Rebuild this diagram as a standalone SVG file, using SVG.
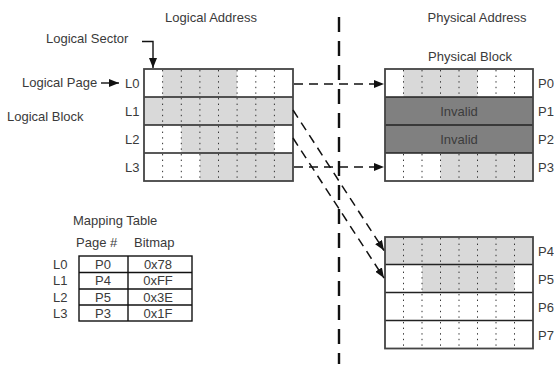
<svg xmlns="http://www.w3.org/2000/svg" width="554" height="372" viewBox="0 0 554 372">
  <style>
    text { font-family: "Liberation Sans", Arial, sans-serif; font-size: 13px; fill: #3a3a3a; }
    .mid { text-anchor: middle; }
    .lite { fill: #d9d9d9; }
    .dark { fill: #808080; }
    .col { stroke: #333; stroke-width: 1; stroke-dasharray: 1.4 4.2; }
    .sep { stroke: #222; stroke-width: 1.6; }
    .frame { fill: none; stroke: #444; stroke-width: 1.8; }
    .link { fill: none; stroke: #111; stroke-width: 1.5; stroke-dasharray: 9 6; }
    .divider { fill: none; stroke: #111; stroke-width: 2.4; stroke-dasharray: 15 9; }
    .solid { fill: none; stroke: #111; stroke-width: 1.4; }
    .inv { fill: #3c3c3c; }
  </style>
  <defs>
    <marker id="arrow" viewBox="0 0 10 8" refX="10" refY="4" markerWidth="10" markerHeight="8" markerUnits="userSpaceOnUse" orient="auto">
      <path d="M0,0 L10,4 L0,8 Z" fill="#111"/>
    </marker>
    <!-- dotted sector boundaries, 8 sectors per page -->
    <g id="cols-l" class="col">
      <line x1="162.6" y1="70" x2="162.6" y2="180"/>
      <line x1="181.3" y1="70" x2="181.3" y2="180"/>
      <line x1="199.9" y1="70" x2="199.9" y2="180"/>
      <line x1="218.5" y1="70" x2="218.5" y2="180"/>
      <line x1="237.1" y1="70" x2="237.1" y2="180"/>
      <line x1="255.8" y1="70" x2="255.8" y2="180"/>
      <line x1="274.4" y1="70" x2="274.4" y2="180"/>
    </g>
    <g id="cols-p" class="col">
      <line x1="403.5" y1="0" x2="403.5" y2="110"/>
      <line x1="422" y1="0" x2="422" y2="110"/>
      <line x1="440.5" y1="0" x2="440.5" y2="110"/>
      <line x1="459" y1="0" x2="459" y2="110"/>
      <line x1="477.5" y1="0" x2="477.5" y2="110"/>
      <line x1="496" y1="0" x2="496" y2="110"/>
      <line x1="514.5" y1="0" x2="514.5" y2="110"/>
    </g>
  </defs>

  <rect width="554" height="372" fill="#fff"/>

  <!-- headings -->
  <g id="headings">
    <text x="211" y="22" class="mid">Logical Address</text>
    <text x="477" y="22" class="mid">Physical Address</text>
    <text x="470" y="61" class="mid">Physical Block</text>
    <text x="46" y="43">Logical Sector</text>
    <text x="22" y="87">Logical Page</text>
    <text x="7" y="121">Logical Block</text>
  </g>

  <!-- logical block L0..L3 -->
  <g id="logical-block">
    <rect x="162.6" y="69" width="74.5" height="28" class="lite"/>
    <rect x="144" y="97" width="149" height="28" class="lite"/>
    <rect x="181.3" y="125" width="93.1" height="28" class="lite"/>
    <rect x="199.9" y="153" width="93.1" height="28" class="lite"/>
    <use href="#cols-l"/>
    <line x1="144" y1="97" x2="293" y2="97" class="sep"/>
    <line x1="144" y1="125" x2="293" y2="125" class="sep"/>
    <line x1="144" y1="153" x2="293" y2="153" class="sep"/>
    <rect x="144" y="69" width="149" height="112" class="frame"/>
    <text x="125" y="88">L0</text>
    <text x="125" y="116">L1</text>
    <text x="125" y="144">L2</text>
    <text x="125" y="172">L3</text>
  </g>

  <!-- physical block P0..P3 -->
  <g id="physical-block-a">
    <rect x="403.5" y="69" width="74" height="28" class="lite"/>
    <rect x="440.5" y="153" width="92.5" height="28" class="lite"/>
    <use href="#cols-p" y="70"/>
    <rect x="385" y="97" width="148" height="56" class="dark"/>
    <text x="459" y="116" class="mid inv">Invalid</text>
    <text x="459" y="144" class="mid inv">Invalid</text>
    <line x1="385" y1="97" x2="533" y2="97" class="sep"/>
    <line x1="385" y1="125" x2="533" y2="125" class="sep"/>
    <line x1="385" y1="153" x2="533" y2="153" class="sep"/>
    <rect x="385" y="69" width="148" height="112" class="frame"/>
    <text x="538" y="88">P0</text>
    <text x="538" y="116">P1</text>
    <text x="538" y="144">P2</text>
    <text x="538" y="172">P3</text>
  </g>

  <!-- physical block P4..P7 -->
  <g id="physical-block-b">
    <rect x="385" y="237" width="148" height="27.5" class="lite"/>
    <rect x="422" y="264.5" width="92.5" height="28" class="lite"/>
    <use href="#cols-p" y="238"/>
    <line x1="385" y1="264.5" x2="533" y2="264.5" class="sep"/>
    <line x1="385" y1="292.5" x2="533" y2="292.5" class="sep"/>
    <line x1="385" y1="320.5" x2="533" y2="320.5" class="sep"/>
    <rect x="385" y="237" width="148" height="111.5" class="frame"/>
    <text x="538" y="256">P4</text>
    <text x="538" y="284">P5</text>
    <text x="538" y="312">P6</text>
    <text x="538" y="340">P7</text>
  </g>

  <!-- mapping table -->
  <g id="mapping-table">
    <text x="73" y="225">Mapping Table</text>
    <text x="76" y="247">Page #</text>
    <text x="134" y="247">Bitmap</text>
    <rect x="79" y="256" width="113" height="65" class="solid"/>
    <line x1="128" y1="256" x2="128" y2="321" class="solid"/>
    <line x1="79" y1="272.5" x2="192" y2="272.5" class="solid"/>
    <line x1="79" y1="289" x2="192" y2="289" class="solid"/>
    <line x1="79" y1="305" x2="192" y2="305" class="solid"/>
    <text x="53" y="269">L0</text>
    <text x="53" y="285">L1</text>
    <text x="53" y="302">L2</text>
    <text x="53" y="318">L3</text>
    <text x="103" y="269" class="mid">P0</text>
    <text x="103" y="285" class="mid">P4</text>
    <text x="103" y="302" class="mid">P5</text>
    <text x="103" y="318" class="mid">P3</text>
    <text x="158" y="269" class="mid">0x78</text>
    <text x="158" y="285" class="mid">0xFF</text>
    <text x="158" y="302" class="mid">0x3E</text>
    <text x="158" y="318" class="mid">0x1F</text>
  </g>

  <!-- connectors -->
  <g id="connectors">
    <line x1="339" y1="17" x2="339" y2="364" class="divider"/>
    <polyline points="142,41.5 153,41.5 153,68" class="solid" marker-end="url(#arrow)"/>
    <line x1="101" y1="83" x2="119" y2="83" class="solid" marker-end="url(#arrow)"/>
    <line x1="294" y1="84" x2="384" y2="84" class="link" marker-end="url(#arrow)"/>
    <line x1="294" y1="167" x2="384" y2="167" class="link" marker-end="url(#arrow)"/>
    <line x1="293" y1="110" x2="384" y2="250.5" class="link" marker-end="url(#arrow)"/>
    <line x1="293" y1="138" x2="384" y2="278" class="link" marker-end="url(#arrow)"/>
  </g>
</svg>
